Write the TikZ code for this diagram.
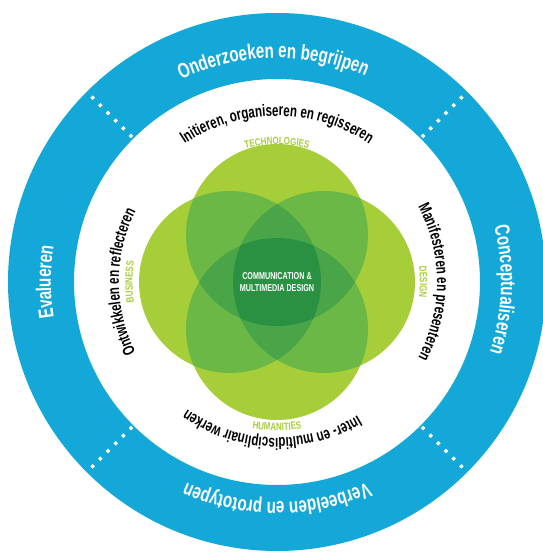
\documentclass[tikz,border=0pt]{standalone}
\usepackage{fontspec}
\usetikzlibrary{decorations.text,calc}
\newfontfamily\condOuter[FakeStretch=0.72]{Liberation Sans}
\newfontfamily\condInner[FakeStretch=0.70]{Liberation Sans}
\newfontfamily\condLabel[FakeStretch=0.76]{Liberation Sans}
\newfontfamily\condCenter[FakeStretch=0.72]{Liberation Sans}
\definecolor{ringblue}{HTML}{14A8D8}
\definecolor{gA}{HTML}{A6CE39}
\definecolor{gB}{HTML}{6CB846}
\definecolor{gC}{HTML}{4AA548}
\definecolor{gD}{HTML}{2A9142}
\tikzset{
  dotsep/.style={white, line width=3.2pt, dash pattern=on 3.2pt off 7.6pt},
  outertext/.style={decorate, decoration={text along path, text align=center, text color=white,
     text={|\condOuter\bfseries\fontsize{21}{22}\selectfont|#1}}},
  innertext/.style={decorate, decoration={text along path, text align=center, text color=black,
     text={|\condInner\bfseries\fontsize{16.5}{18}\selectfont|#1}}},
  labeltext/.style={decorate, decoration={text along path, text align=center, text color=gA,
     text={|\condLabel\bfseries\fontsize{10.5}{12}\selectfont|#1}}},
}
\begin{document}
\begin{tikzpicture}[x=1pt,y=1pt]
\useasboundingbox (0,0) rectangle (542,552);
\coordinate (C) at (277,270);
% blue ring
\fill[ringblue, even odd rule] (C) circle[radius=269pt] (C) circle[radius=203pt];
% dotted separators
\foreach \a in {45,135,225,315}
  \draw[dotsep] ($(C)+(\a:205pt)$) -- ($(C)+(\a:268pt)$);
% Venn diagram
\coordinate (vt) at (277,317);
\coordinate (vb) at (277,223);
\coordinate (vl) at (230,270);
\coordinate (vr) at (324,270);
\def\vrad{91pt}
\fill[gA] (vt) circle[radius=\vrad] (vb) circle[radius=\vrad] (vl) circle[radius=\vrad] (vr) circle[radius=\vrad];
\begin{scope}
  \clip (vt) circle[radius=\vrad];
  \fill[gB] (vl) circle[radius=\vrad];
  \fill[gB] (vr) circle[radius=\vrad];
  \fill[gB] (vb) circle[radius=\vrad];
\end{scope}
\begin{scope}
  \clip (vl) circle[radius=\vrad];
  \fill[gB] (vr) circle[radius=\vrad];
  \fill[gB] (vb) circle[radius=\vrad];
\end{scope}
\begin{scope}
  \clip (vr) circle[radius=\vrad];
  \fill[gB] (vb) circle[radius=\vrad];
\end{scope}
\begin{scope}
  \clip (vt) circle[radius=\vrad];
  \clip (vl) circle[radius=\vrad];
  \fill[gC] (vr) circle[radius=\vrad];
  \fill[gC] (vb) circle[radius=\vrad];
\end{scope}
\begin{scope}
  \clip (vt) circle[radius=\vrad];
  \clip (vr) circle[radius=\vrad];
  \fill[gC] (vb) circle[radius=\vrad];
\end{scope}
\begin{scope}
  \clip (vl) circle[radius=\vrad];
  \clip (vr) circle[radius=\vrad];
  \fill[gC] (vb) circle[radius=\vrad];
\end{scope}
\begin{scope}
  \clip (vt) circle[radius=\vrad];
  \clip (vl) circle[radius=\vrad];
  \clip (vr) circle[radius=\vrad];
  \fill[gD] (vb) circle[radius=\vrad];
\end{scope}
\node[align=center, text=white, font=\condCenter\bfseries\fontsize{10}{11.5}\selectfont] (core) at (277,270) {COMMUNICATION \&\\MULTIMEDIA DESIGN};
% outer ring texts
\path[outertext={Onderzoeken en begrijpen}] ($(C)+(151:224pt)$) arc[start angle=151, end angle=31, radius=224pt];
\path[outertext={Conceptualiseren}] ($(C)+(58:224pt)$) arc[start angle=58, end angle=-62, radius=224pt];
\path[outertext={Verbeelden en prototypen}] ($(C)+(-30:220pt)$) arc[start angle=-30, end angle=-150, radius=220pt];
\path[outertext={Evalueren}] ($(C)+(240:226pt)$) arc[start angle=240, end angle=120, radius=226pt];
% inner ring texts
\path[innertext={Initieren, organiseren en regisseren}] ($(C)+(150:166pt)$) arc[start angle=150, end angle=30, radius=166pt];
\path[innertext={Manifesteren en presenteren}] ($(C)+(60:160pt)$) arc[start angle=60, end angle=-60, radius=160pt];
\path[innertext={Inter- en multidisciplinair werken}] ($(C)+(-32:156pt)$) arc[start angle=-32, end angle=-152, radius=156pt];
\path[innertext={Ontwikkelen en reflecteren}] ($(C)+(240:158pt)$) arc[start angle=240, end angle=120, radius=158pt];
% green labels
\path[labeltext={TECHNOLOGIES}] ($(C)+(120:137.5pt)$) arc[start angle=120, end angle=60, radius=137.5pt];
\path[labeltext={DESIGN}] ($(C)+(30:143pt)$) arc[start angle=30, end angle=-30, radius=143pt];
\path[labeltext={HUMANITIES}] ($(C)+(-120:148.5pt)$) arc[start angle=-120, end angle=-60, radius=148.5pt];
\path[labeltext={BUSINESS}] ($(C)+(210:144.5pt)$) arc[start angle=210, end angle=150, radius=144.5pt];
\end{tikzpicture}
\end{document}
